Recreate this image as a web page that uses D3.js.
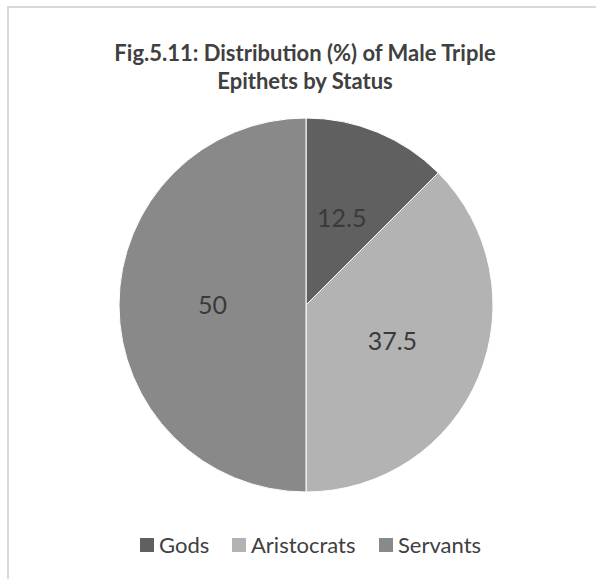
<!DOCTYPE html>
<html>
<head>
<meta charset="utf-8">
<script src="https://cdn.jsdelivr.net/npm/d3@7"></script>
<style>
  html, body { margin: 0; padding: 0; background: #fff; }
  svg { display: block; }
</style>
</head>
<body>
<svg id="chart" width="596" height="579"></svg>
<script>
// Male triple epithets by status (%)
const categories = ["Gods", "Aristocrats", "Servants"];
const values = [12.5, 37.5, 50];
const colors = ["#606060", "#b3b3b3", "#898989"];
const titleLines = ["Fig.5.11: Distribution (%) of Male Triple", "Epithets by Status"];

const W = 596, H = 579;
const svg = d3.select("#chart");
const font = "Lato, 'Open Sans', 'Liberation Sans', sans-serif";

// chart frame
svg.append("rect")
  .attr("x", 8).attr("y", 7)
  .attr("width", W).attr("height", H)
  .attr("fill", "#fff")
  .attr("stroke", "#d9d9d9").attr("stroke-width", 2);

// title
svg.append("text")
  .attr("text-anchor", "middle")
  .attr("font-family", font)
  .attr("font-weight", "bold")
  .attr("font-size", 22)
  .attr("fill", "#404040")
  .selectAll("tspan")
  .data(titleLines)
  .join("tspan")
  .attr("x", 305)
  .attr("y", (d, i) => 61 + i * 28)
  .text(d => d);

// pie
const cx = 306, cy = 305, r = 187;
const color = d3.scaleOrdinal().domain(categories).range(colors);
const pie = d3.pie().sort(null).value(d => d.value);
const data = categories.map((c, i) => ({ name: c, value: values[i] }));
const arcs = pie(data);
const arc = d3.arc().innerRadius(0).outerRadius(r);

const g = svg.append("g").attr("transform", `translate(${cx},${cy})`);
g.selectAll("path")
  .data(arcs)
  .join("path")
  .attr("d", arc)
  .attr("fill", d => color(d.data.name))
  .attr("stroke", "#fff")
  .attr("stroke-width", 1);

g.selectAll("text.label")
  .data(arcs)
  .join("text")
  .attr("class", "label")
  .attr("transform", d => `translate(${arc.centroid(d)})`)
  .attr("text-anchor", "middle")
  .attr("dy", "0.35em")
  .attr("font-family", font)
  .attr("font-size", 25)
  .attr("fill", "#3a3a3a")
  .text(d => d.data.value);

// legend
const legendX = [140, 232, 379];
const legend = svg.append("g");
const items = legend.selectAll("g")
  .data(categories)
  .join("g")
  .attr("transform", (d, i) => `translate(${legendX[i]},545)`);
items.append("rect")
  .attr("x", 0).attr("y", -7)
  .attr("width", 14).attr("height", 14)
  .attr("fill", d => color(d));
items.append("text")
  .attr("x", 19)
  .attr("dy", "0.35em")
  .attr("font-family", font)
  .attr("font-size", 22)
  .attr("fill", "#404040")
  .text(d => d);
</script>
</body>
</html>
